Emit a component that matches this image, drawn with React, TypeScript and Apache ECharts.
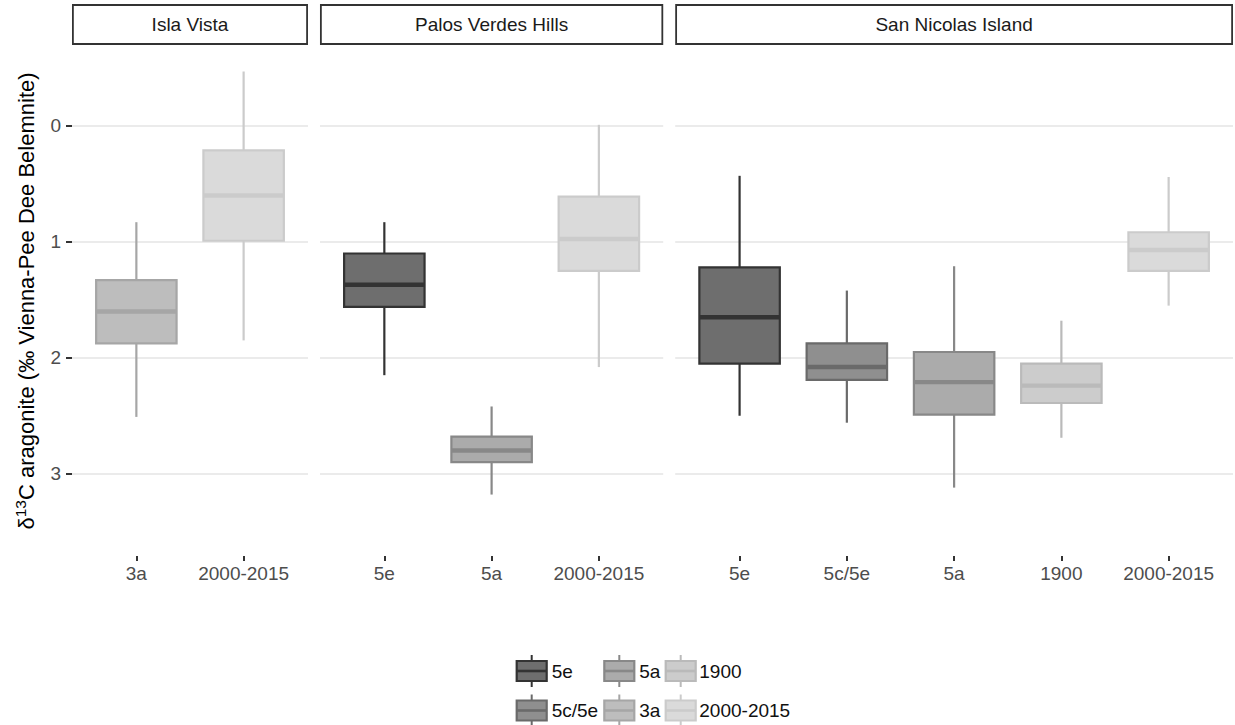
import React, { useEffect, useRef } from "react";
import * as echarts from "echarts";

// Facets (sites) and the periods shown in each
const facetNames = ["Isla Vista", "Palos Verdes Hills", "San Nicolas Island"];
const periods = ["5e", "5c/5e", "5a", "3a", "1900", "2000-2015"];

const islaVistaPeriods = ["3a", "2000-2015"];
const palosVerdesPeriods = ["5e", "5a", "2000-2015"];
const sanNicolasPeriods = ["5e", "5c/5e", "5a", "1900", "2000-2015"];

// Box statistics per period: [lower whisker, Q1, median, Q3, upper whisker]
const islaVistaStats = [
  [0.83, 1.33, 1.6, 1.875, 2.51],
  [-0.47, 0.21, 0.6, 0.99, 1.85],
];
const palosVerdesStats = [
  [0.83, 1.1, 1.37, 1.56, 2.15],
  [2.42, 2.68, 2.8, 2.9, 3.18],
  [-0.01, 0.61, 0.975, 1.25, 2.08],
];
const sanNicolasStats = [
  [0.43, 1.22, 1.65, 2.05, 2.5],
  [1.42, 1.875, 2.08, 2.19, 2.56],
  [1.21, 1.95, 2.21, 2.49, 3.12],
  [1.68, 2.05, 2.24, 2.39, 2.69],
  [0.44, 0.917, 1.07, 1.25, 1.55],
];

const yTicks = [0, 1, 2, 3];

// Grey palette: outline and fill per period
const lineColors = ["#333333", "#6a6a6a", "#888888", "#a6a6a6", "#bababa", "#cbcbcb"];
const fillColors = ["#6e6e6e", "#8f8f8f", "#ababab", "#bdbdbd", "#cccccc", "#dadada"];

const FONT = "'Liberation Sans', Arial, Helvetica, sans-serif";

const facetCats = [islaVistaPeriods, palosVerdesPeriods, sanNicolasPeriods];
const facetStats = [islaVistaStats, palosVerdesStats, sanNicolasStats];

// Panel geometry (pixels)
const PANEL_TOP = 46;
const PANEL_H = 510;
const PANEL_LEFT = 72;
const PANEL_RIGHT = 1233;
const PANEL_GAP = 12;
const EXPAND = 0.6;
const Y_MIN = -0.69;
const Y_MAX = 3.71;

function panelBoxes() {
  const units = facetCats.map((c) => c.length - 1 + 2 * EXPAND);
  const total = units.reduce((a, b) => a + b, 0);
  const avail = PANEL_RIGHT - PANEL_LEFT - PANEL_GAP * (facetCats.length - 1);
  const per = avail / total;
  const out: { left: number; width: number }[] = [];
  let x = PANEL_LEFT;
  units.forEach((u) => {
    out.push({ left: x, width: u * per });
    x += u * per + PANEL_GAP;
  });
  return out;
}

function renderBox(params: any, api: any) {
  const x = api.value(0);
  const lo = api.value(1);
  const q1 = api.value(2);
  const med = api.value(3);
  const q3 = api.value(4);
  const hi = api.value(5);
  const pi = api.value(6);
  const half = api.size([0.75, 0])[0] / 2;
  const pLo = api.coord([x, lo]);
  const pQ1 = api.coord([x, q1]);
  const pMed = api.coord([x, med]);
  const pQ3 = api.coord([x, q3]);
  const pHi = api.coord([x, hi]);
  const stroke = lineColors[pi];
  const fill = fillColors[pi];
  const lw = 2.2;
  return {
    type: "group",
    children: [
      {
        type: "line",
        shape: { x1: pLo[0], y1: pLo[1], x2: pQ1[0], y2: pQ1[1] },
        style: { stroke, lineWidth: lw },
      },
      {
        type: "line",
        shape: { x1: pQ3[0], y1: pQ3[1], x2: pHi[0], y2: pHi[1] },
        style: { stroke, lineWidth: lw },
      },
      {
        type: "rect",
        shape: {
          x: pQ1[0] - half,
          y: Math.min(pQ1[1], pQ3[1]),
          width: 2 * half,
          height: Math.abs(pQ3[1] - pQ1[1]),
        },
        style: { fill, stroke, lineWidth: lw },
      },
      {
        type: "line",
        shape: { x1: pMed[0] - half, y1: pMed[1], x2: pMed[0] + half, y2: pMed[1] },
        style: { stroke, lineWidth: lw * 2 },
      },
    ],
  };
}

function buildOption() {
  const boxes = panelBoxes();
  const grid: any[] = [];
  const xAxis: any[] = [];
  const yAxis: any[] = [];
  const series: any[] = [];
  const graphic: any[] = [];

  boxes.forEach((b, i) => {
    const cats = facetCats[i];
    const idx = cats.map((_, k) => k);
    grid.push({ left: b.left, top: PANEL_TOP, width: b.width, height: PANEL_H });
    xAxis.push({
      type: "value",
      gridIndex: i,
      position: "bottom",
      min: -EXPAND,
      max: cats.length - 1 + EXPAND,
      axisLine: { show: false, onZero: false },
      splitLine: { show: false },
      axisTick: {
        show: true,
        customValues: idx,
        length: 5,
        lineStyle: { color: "#333333", width: 2 },
      },
      axisLabel: {
        customValues: idx,
        formatter: (v: number) => cats[Math.round(v)] ?? "",
        color: "#4d4d4d",
        fontSize: 19,
        fontFamily: FONT,
        margin: 8,
      },
    });
    const first = i === 0;
    yAxis.push({
      type: "value",
      gridIndex: i,
      position: "left",
      inverse: true,
      min: Y_MIN,
      max: Y_MAX,
      axisLine: { show: false, onZero: false },
      axisTick: {
        show: first,
        customValues: yTicks,
        length: 6,
        lineStyle: { color: "#333333", width: 2 },
      },
      axisLabel: {
        show: first,
        customValues: yTicks,
        color: "#4d4d4d",
        fontSize: 19,
        fontFamily: FONT,
        margin: 11,
      },
      splitLine: { show: true, lineStyle: { color: "#ebebeb", width: 2 } },
      ...(first
        ? {
            name: "{g|δ}{s|13}{g|C aragonite (‰ Vienna-Pee Dee Belemnite)}",
            nameLocation: "middle",
            nameGap: 32,
            nameRotate: 90,
            nameTextStyle: {
              rich: {
                g: { fontSize: 22, color: "#000000", fontFamily: FONT, lineHeight: 28 },
                s: {
                  fontSize: 15.5,
                  color: "#000000",
                  fontFamily: FONT,
                  verticalAlign: "top",
                  lineHeight: 28,
                },
              },
            },
          }
        : {}),
    });
    const data = facetStats[i].map((s, k) => [k, ...s, periods.indexOf(cats[k])]);
    series.push({
      type: "custom",
      name: facetNames[i],
      xAxisIndex: i,
      yAxisIndex: i,
      renderItem: renderBox,
      encode: { x: 0, y: [1, 5] },
      data,
      clip: false,
    });

    // Facet strip
    graphic.push({
      type: "group",
      children: [
        {
          type: "rect",
          shape: { x: b.left + 0.9, y: 5, width: b.width - 1.8, height: 39 },
          style: { fill: "#ffffff", stroke: "#333333", lineWidth: 1.8 },
        },
        {
          type: "text",
          x: b.left + b.width / 2,
          y: 24.5,
          style: {
            text: facetNames[i],
            fill: "#1a1a1a",
            fontSize: 19,
            fontFamily: FONT,
            align: "center",
            verticalAlign: "middle",
          },
        },
      ],
    });
  });

  // Legend: boxplot glyphs in two rows, filled column by column
  const colKeyX = [531.7, 619.3, 680.7];
  const colTextX = [551.7, 639.3, 699.3];
  const rowY = [671, 710.5];
  periods.forEach((p, i) => {
    const col = Math.floor(i / 2);
    const row = i % 2;
    const cx = colKeyX[col];
    const cy = rowY[row];
    const stroke = lineColors[i];
    const fill = fillColors[i];
    graphic.push({
      type: "group",
      children: [
        {
          type: "line",
          shape: { x1: cx, y1: cy - 16, x2: cx, y2: cy - 10 },
          style: { stroke, lineWidth: 2 },
        },
        {
          type: "line",
          shape: { x1: cx, y1: cy + 10, x2: cx, y2: cy + 16 },
          style: { stroke, lineWidth: 2 },
        },
        {
          type: "rect",
          shape: { x: cx - 15, y: cy - 10, width: 30, height: 20 },
          style: { fill, stroke, lineWidth: 2.2 },
        },
        {
          type: "line",
          shape: { x1: cx - 15, y1: cy, x2: cx + 15, y2: cy },
          style: { stroke, lineWidth: 2.6 },
        },
        {
          type: "text",
          x: colTextX[col],
          y: cy,
          style: {
            text: p,
            fill: "#111111",
            fontSize: 19,
            fontFamily: FONT,
            align: "left",
            verticalAlign: "middle",
          },
        },
      ],
    });
  });

  return {
    animation: false,
    backgroundColor: "#ffffff",
    grid,
    xAxis,
    yAxis,
    series,
    graphic,
  };
}

export default function App() {
  const ref = useRef<HTMLDivElement>(null);
  useEffect(() => {
    if (!ref.current) return;
    const chart = echarts.init(ref.current, undefined, { renderer: "svg" });
    chart.setOption(buildOption() as any);
    return () => chart.dispose();
  }, []);
  return (
    <div
      ref={ref}
      style={{ position: "fixed", left: 0, top: 0, width: 1235, height: 725, background: "#fff" }}
    />
  );
}
